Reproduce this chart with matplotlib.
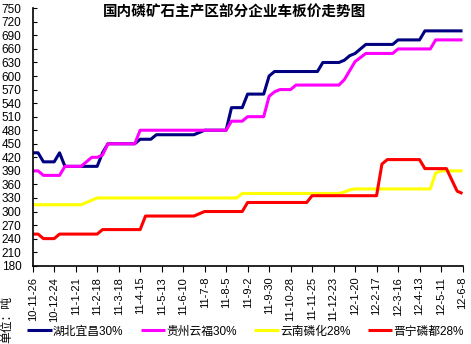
import matplotlib
matplotlib.use("Agg")
import matplotlib.pyplot as plt
import numpy as np

plt.rcParams['font.family'] = ['Liberation Sans', 'Noto Sans CJK SC']

# 周度车板价（元/吨），2010-11-26 至 2012-06-08
hubei_yichang = [430, 430, 410, 410, 410, 430, 400, 400, 400, 400, 400, 400, 400,
                 430, 450, 450, 450, 450, 450, 450,
                 460, 460, 460,
                 470, 470, 470, 470, 470, 470, 470, 470,
                 475,
                 480, 480, 480, 480, 480,
                 530, 530, 530,
                 560, 560, 560, 560,
                 600,
                 610, 610, 610, 610, 610, 610, 610, 610, 610,
                 630, 630, 630, 630,
                 635, 645, 650, 660, 670,
                 670, 670, 670, 670, 670,
                 680, 680, 680, 680, 680,
                 700, 700, 700, 700, 700, 700, 700, 700]

guizhou_yunfu = [390, 390, 380, 380, 380, 380, 400, 400, 400, 400, 410, 420, 420, 425, 450,
                 450, 450, 450, 450, 450,
                 480, 480, 480, 480, 480, 480, 480, 480, 480, 480, 480, 480, 480, 480, 480, 480, 480,
                 500, 500, 500,
                 510, 510, 510, 510,
                 555, 565, 570,
                 570, 570,
                 580, 580, 580, 580, 580, 580, 580, 580, 580,
                 592, 612, 632, 641, 650,
                 650, 650, 650, 650, 650,
                 660, 660, 660, 660, 660, 660, 660,
                 680, 680, 680, 680, 680, 680]

yunnan_linhua = [315] * 10 + [320, 325] + [330] * 27 + [340] * 19 + [343, 348] + \
                [350] * 15 + [385] + [390] * 5

jinning_ludu = [250, 250, 240, 240, 240, 250] + [250] * 7 + [260] + [260] * 7 + [290] + \
               [290] * 9 + [295] + [300] * 8 + [320] * 12 + [335] * 13 + [405] + \
               [415] * 7 + [395] * 5 + [370, 345, 340]

tick_labels = ["10-11-26", "10-12-24", "11-1-21", "11-2-18", "11-3-18", "11-4-15",
               "11-5-13", "11-6-10", "11-7-8", "11-8-5", "11-9-2", "11-9-30",
               "11-10-28", "11-11-25", "11-12-23", "12-1-20", "12-2-17", "12-3-16",
               "12-4-13", "12-5-11", "12-6-8"]

series = [
    ("湖北宜昌30%", hubei_yichang, "#000080"),
    ("贵州云福30%", guizhou_yunfu, "#FF00FF"),
    ("云南磷化28%", yunnan_linhua, "#FFFF00"),
    ("晋宁磷都28%", jinning_ludu, "#FF0000"),
]

fig = plt.figure(figsize=(4.71, 3.44), dpi=100)
ax = fig.add_axes([0.0694, 0.2276, 0.9126, 0.7483])

weeks = np.arange(len(hubei_yichang))
handles = []
for label, vals, color in series:
    h, = ax.plot(weeks, vals, color=color, linewidth=2.2, solid_joinstyle="round",
                 solid_capstyle="butt", label=label)
    handles.append(h)

ax.set_xlim(0, len(weeks) - 1)
ax.set_ylim(180, 750)
ax.set_yticks(np.arange(180, 751, 30))
ax.set_xticks(np.arange(0, len(weeks), 4))
ax.set_xticklabels(tick_labels, rotation=90, fontsize=8)
ax.tick_params(axis="y", direction="in", length=3, labelsize=8.5, pad=8)
ax.tick_params(axis="x", direction="out", length=4, pad=4)
ax.spines["top"].set_visible(False)
ax.spines["right"].set_visible(False)
ax.spines["left"].set_linewidth(1.2)
ax.spines["bottom"].set_linewidth(1.2)

fig.text(0.497, 0.968, "国内磷矿石主产区部分企业车板价走势图", ha="center", va="center",
         fontsize=10.5, fontweight="bold", family=["Noto Sans CJK SC"])
fig.text(0.014, 0.07, "单位：吨", rotation=90, ha="center", va="center",
         fontsize=8.5, family=["Noto Sans CJK SC"])

fig.legend(handles=handles, loc="center left", bbox_to_anchor=(0.0573, 0.036),
           ncol=4, frameon=False, handlelength=2.1, handletextpad=0.1,
           columnspacing=1.45, borderpad=0, borderaxespad=0,
           prop={"family": ["Liberation Sans", "Noto Sans CJK SC"], "size": 8.5})

fig.savefig("out.png", dpi=100)
